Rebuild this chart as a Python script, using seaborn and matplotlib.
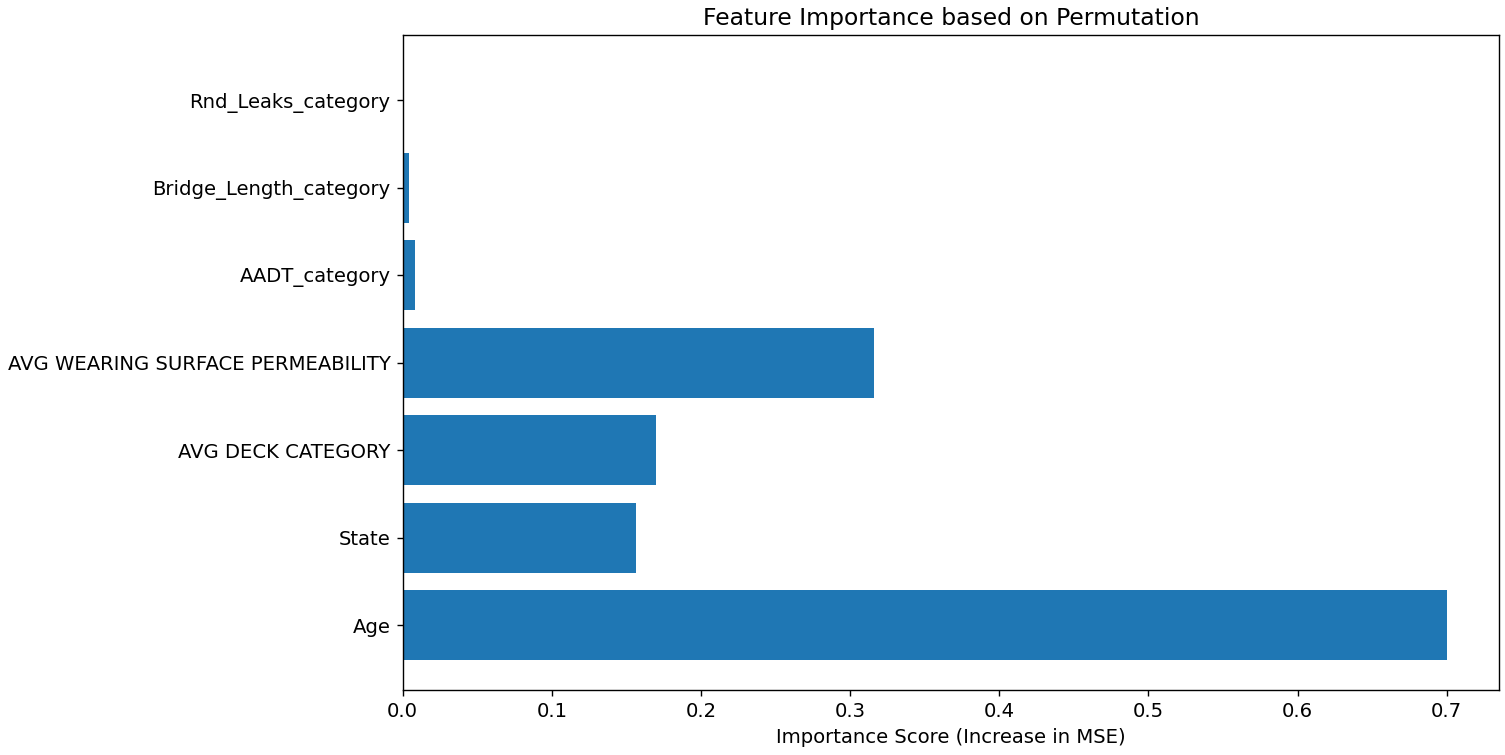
import pandas as pd
import seaborn as sns
import matplotlib.pyplot as plt

# Data (top to bottom)
features = ['Rnd_Leaks_category', 'Bridge_Length_category', 'AADT_category',
            'AVG WEARING SURFACE PERMEABILITY', 'AVG DECK CATEGORY', 'State', 'Age']
importance = [0.0, 0.0042, 0.0081, 0.316, 0.170, 0.1565, 0.700]

df = pd.DataFrame({'Feature': features, 'Importance': importance})

# scale factors so that the 100 dpi canvas looks like the upscaled original
s = 1.25   # lines / ticks
f = 1.41   # fonts
plt.rcParams.update({
    'font.family': 'DejaVu Sans',
    'font.size': 10 * f,
    'axes.titlesize': 12 * f,
    'axes.labelsize': 10 * f,
    'xtick.labelsize': 10 * f,
    'ytick.labelsize': 10 * f,
    'axes.linewidth': 0.8 * s,
    'xtick.major.width': 0.8 * s,
    'ytick.major.width': 0.8 * s,
    'xtick.major.size': 3.5 * s,
    'ytick.major.size': 3.5 * s,
    'xtick.major.pad': 3.5 * s,
    'ytick.major.pad': 3.5 * s,
    'axes.titlepad': 6 * s,
    'axes.labelpad': 4 * s,
})

fig, ax = plt.subplots(figsize=(15.05, 7.55), dpi=100)
fig.subplots_adjust(left=0.2676, right=0.996, top=0.953, bottom=0.086)

sns.barplot(data=df, x='Importance', y='Feature', orient='h',
            color='#1f77b4', saturation=1, width=0.8, ax=ax)

# matplotlib-like limits with 5% margins
ax.set_ylim(6.74, -0.74)
ax.set_xlim(0, 0.735)

ax.set_title('Feature Importance based on Permutation')
ax.set_xlabel('Importance Score (Increase in MSE)')
ax.set_ylabel('')

plt.savefig('out.png', dpi=100)
plt.close()
